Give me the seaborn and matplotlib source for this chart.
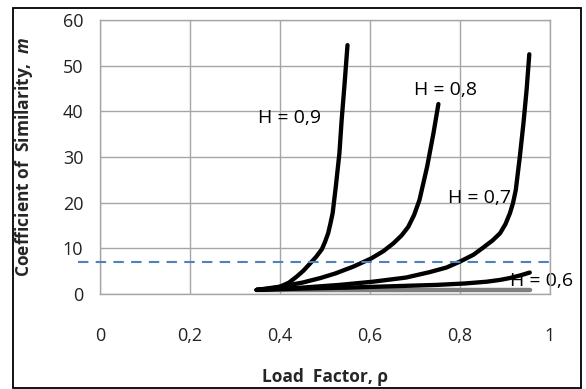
import numpy as np
import pandas as pd
import matplotlib
matplotlib.use("Agg")
import matplotlib.pyplot as plt
from matplotlib.patches import Rectangle
import seaborn as sns

# values
rho_h09 = [0.348, 0.38, 0.40, 0.42, 0.437, 0.452, 0.467, 0.48, 0.493, 0.50, 0.507,
           0.512, 0.517, 0.524, 0.532, 0.537, 0.543, 0.550]
m_h09 = [0.9, 1.2, 1.6, 2.5, 3.8, 5.1, 6.7, 8.1, 9.8, 11.4, 13.3, 15.4, 17.7, 23.5,
         30.8, 38.1, 45.4, 54.5]

rho_h08 = [0.348, 0.40, 0.45, 0.49, 0.523, 0.563, 0.603, 0.63, 0.652, 0.67, 0.685,
           0.698, 0.710, 0.727, 0.741, 0.752]
m_h08 = [0.9, 1.6, 2.5, 3.5, 4.5, 6.0, 7.8, 9.4, 11.1, 12.8, 14.7, 17.3, 20.6, 27.9,
         35.2, 41.6]

rho_h07 = [0.348, 0.45, 0.533, 0.607, 0.68, 0.733, 0.77, 0.80, 0.83, 0.852, 0.872,
           0.889, 0.901, 0.911, 0.918, 0.924, 0.933, 0.941, 0.948, 0.954]
m_h07 = [0.9, 1.4, 2.0, 2.7, 3.6, 4.8, 5.8, 7.1, 8.6, 10.2, 11.7, 13.3, 15.3, 17.7,
         20.0, 22.8, 30.1, 37.4, 44.7, 52.5]

rho_h06 = [0.348, 0.45, 0.55, 0.65, 0.75, 0.81, 0.86, 0.89, 0.911, 0.935, 0.955]
m_h06 = [0.9, 1.2, 1.4, 1.7, 2.0, 2.3, 2.7, 3.1, 3.5, 4.1, 4.7]

rho_h05 = [0.348, 0.955]
m_h05 = [0.9, 0.9]

rho_limit = [-0.05, 1.0]
m_limit = [7.0, 7.0]

labels = ["H = 0,9", "H = 0,8", "H = 0,7", "H = 0,6"]
label_x = [0.350, 0.698, 0.774, 0.910]
label_y = [38.6, 44.6, 21.0, 2.9]

x_ticks = [0, 0.2, 0.4, 0.6, 0.8, 1.0]
x_tick_labels = ["0", "0,2", "0,4", "0,6", "0,8", "1"]
y_ticks = [0, 10, 20, 30, 40, 50, 60]

sns.set_style("white")
plt.rcParams['font.family'] = ['Open Sans', 'DejaVu Sans']
plt.rcParams['mathtext.fontset'] = 'custom'
plt.rcParams['mathtext.it'] = 'Open Sans:italic:bold'
plt.rcParams['mathtext.rm'] = 'Open Sans:bold'

fig = plt.figure(figsize=(5.86, 3.89), dpi=100)
ax = fig.add_axes([100 / 586, 1 - 294 / 389, 450 / 586, 274 / 389])

grid_col = "#a6a6a6"

# lower gray baseline
sns.lineplot(x=rho_h05, y=m_h05, ax=ax, color="#7f7f7f", linewidth=3.2, zorder=3)
for xs, ys in [(rho_h06, m_h06), (rho_h07, m_h07), (rho_h08, m_h08), (rho_h09, m_h09)]:
    df = pd.DataFrame({"rho": xs, "m": ys})
    sns.lineplot(data=df, x="rho", y="m", ax=ax, color="black", linewidth=3.1,
                 zorder=4, solid_capstyle="round", solid_joinstyle="round")

lim = pd.DataFrame({"rho": rho_limit, "m": m_limit})
sns.lineplot(data=lim, x="rho", y="m", ax=ax, color="#4f81bd", linewidth=1.5, zorder=5)
ax.lines[-1].set_dashes((5, 3.5))
ax.lines[-1].set_clip_on(False)

for txt, tx, ty in zip(labels, label_x, label_y):
    ax.text(tx, ty, txt, fontsize=14, ha="left", va="center", color="black",
            zorder=2, clip_on=False)

ax.set_xlim(0, 1)
ax.set_ylim(0, 60)
ax.set_xticks(x_ticks)
ax.set_xticklabels(x_tick_labels)
ax.set_yticks(y_ticks)
ax.tick_params(axis="x", length=0, pad=24, labelsize=13, colors="#222222")
ax.tick_params(axis="y", length=0, pad=12, labelsize=13, colors="#222222")
ax.grid(True, color=grid_col, linewidth=1.0)
ax.set_axisbelow(True)
for s in ax.spines.values():
    s.set_color(grid_col)
    s.set_linewidth(1.0)

ax.set_xlabel("Load  Factor, ρ", fontsize=12.5, fontweight="bold", va="center")
ax.set_ylabel("Coefficient of  Similarity,  $m$", fontsize=12.5, fontweight="bold",
              va="center")
ax.xaxis.set_label_coords(0.5, (294 - 377) / 274)
ax.yaxis.set_label_coords((24 - 100) / 450, 0.5)

# outer chart frame
fig.patches.append(Rectangle((13 / 586, 1 / 389), 568 / 586, 380 / 389,
                             transform=fig.transFigure, fill=False,
                             edgecolor="black", linewidth=1.3))

fig.savefig("out.png", dpi=100)
